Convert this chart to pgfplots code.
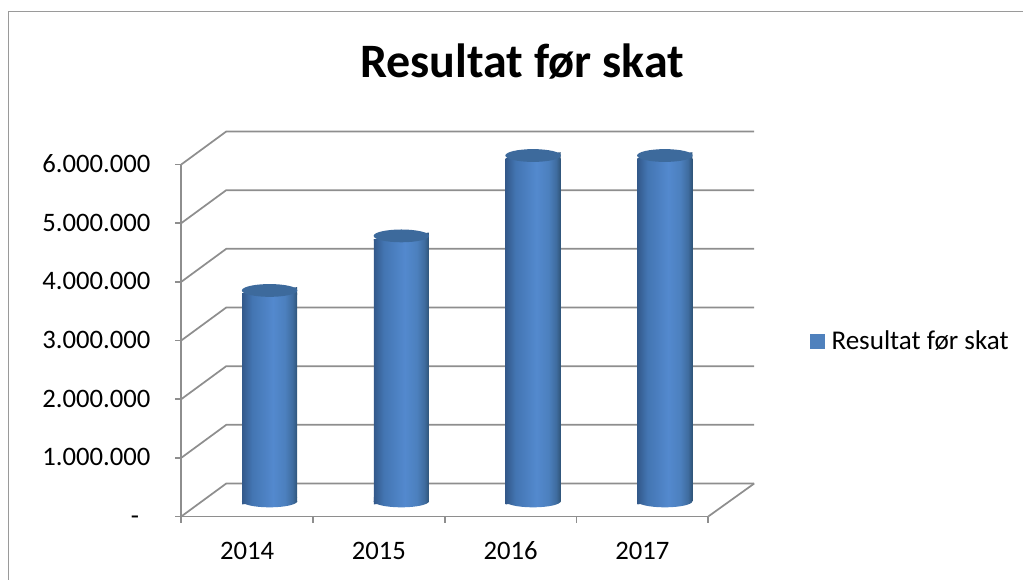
\documentclass[border=0pt]{standalone}
\usepackage{pgfplots}
\usepackage{pgfplotstable}
\usepackage{fontspec}
\setmainfont{Carlito}
\pgfplotsset{compat=1.18}
\definecolor{gridc}{HTML}{8E8E8E}
\definecolor{framec}{HTML}{9A9A9A}
\definecolor{capc}{HTML}{3D6A9C}
\definecolor{legc}{HTML}{4F81BD}
\definecolor{sa}{HTML}{33598A}
\definecolor{sb}{HTML}{4375B2}
\definecolor{sc}{HTML}{5389CE}
\definecolor{sd}{HTML}{4C80BE}
\definecolor{sf}{HTML}{3F6C9F}
\definecolor{se}{HTML}{2F5478}
\pgfdeclarehorizontalshading{cyl}{100bp}{color(0bp)=(sa); color(25bp)=(sa); color(34bp)=(sb); color(53bp)=(sc); color(64bp)=(sd); color(71bp)=(sf); color(75bp)=(se); color(100bp)=(se)}
\pgfdeclareplotmark{cyltop}{%
  \path[draw=none,shading=cyl] (-20.625pt,-2.5pt) -- (20.625pt,2.5pt) -- (20.625pt,-3.5pt) -- (-20.625pt,-3.5pt) -- cycle;
  \path[draw=none,fill=capc,rotate=7] (0,0) ellipse [x radius=20.8pt,y radius=4.8pt];
}
\pgfdeclareplotmark{cylbot}{%
  \path[draw=none,shading=cyl] (-20.625pt,3pt) -- (20.625pt,3pt) -- (20.625pt,2.5pt) -- (-20.625pt,-2.5pt) -- cycle;
  \path[draw=none,shading=cyl,rotate=7] (-20.78pt,0pt) arc [start angle=180,end angle=360,x radius=20.78pt,y radius=4.7pt] -- cycle;
}
\pgfplotstableread{
x y
0.5 3590000
1.5 4520000
2.5 5890000
3.5 5890000
}\resdata
\pgfplotsset{cylbody/.style={forget plot,ybar,bar width=41.25pt,bar shift=0pt,draw=none,shade,shading=cyl,y filter/.expression={y-56000}}}
\begin{document}
\begin{tikzpicture}
\useasboundingbox (0,0) rectangle (767.25pt,435pt);
\draw[framec,line width=0.9pt] (6.4pt,0pt) -- (6.4pt,426.4pt) -- (767.25pt,426.4pt);
\begin{axis}[
  at={(135.9pt,47.6pt)},anchor=south west,
  scale only axis,width=395.25pt,height=264pt,
  xmin=0,xmax=4,ymin=0,ymax=6000000,
  clip=false,scaled y ticks=false,
  axis x line*=bottom,axis y line*=left,
  axis line style={gridc,line width=1.3pt,-},
  tick style={gridc,line width=1.3pt},
  tick align=outside,major tick length=4.5pt,
  xtick={0,1,2,3,4},xticklabels={2014,2015,2016,2017},
  x tick label as interval,
  ytick={0,1000000,2000000,3000000,4000000,5000000,6000000},
  yticklabels={-\hspace*{8.5pt},1.000.000,2.000.000,3.000.000,4.000.000,5.000.000,6.000.000},
  typeset ticklabels with strut,
  tick label style={font=\fontsize{20}{24}\selectfont,black},
  xticklabel style={yshift=-7.5pt},
  yticklabel style={xshift=-15pt,yshift=-1.2pt,anchor=east},
  title={\textbf{Resultat før skat}},
  title style={at={(0.647,1.271)},anchor=center,font=\fontsize{36}{43}\selectfont},
]
\pgfplotsinvokeforeach{0,1000000,2000000,3000000,4000000,5000000,6000000}{
  \draw[gridc,line width=1.3pt,line join=round] (axis cs:0,#1) -- ++(33.75pt,24.75pt) -- ++(396pt,0pt);
}
\draw[gridc,line width=1.3pt] (axis cs:4,0) -- ++(34.5pt,24.75pt);
\end{axis}
\begin{axis}[
  at={(152.8pt,59.2pt)},anchor=south west,
  scale only axis,width=395.25pt,height=264pt,
  xmin=0,xmax=4,ymin=0,ymax=6000000,
  clip=false,axis lines=none,
  legend style={at={(1.149,0.4545)},anchor=west,draw=none,fill=none,font=\fontsize{20.3}{24}\selectfont,inner sep=0pt},
  legend cell align=left,
]
\addlegendimage{legend image code/.code={\path[draw=none,fill=legc] (0pt,-5.6pt) rectangle (11.25pt,5.6pt); \path[draw=none] (0pt,0pt) -- (14.5pt,0pt);}}
\addlegendentry{Resultat før skat}
\addplot[cylbody] coordinates {(0.5,3590000)};
\addplot[cylbody] coordinates {(1.5,4520000)};
\addplot[cylbody] coordinates {(2.5,5890000)};
\addplot[cylbody] coordinates {(3.5,5890000)};
\addplot[only marks,forget plot,mark=cylbot] table[x=x,y expr=0] {\resdata};
\addplot[only marks,forget plot,mark=cyltop] table[x=x,y=y] {\resdata};
\end{axis}
\end{tikzpicture}
\end{document}
